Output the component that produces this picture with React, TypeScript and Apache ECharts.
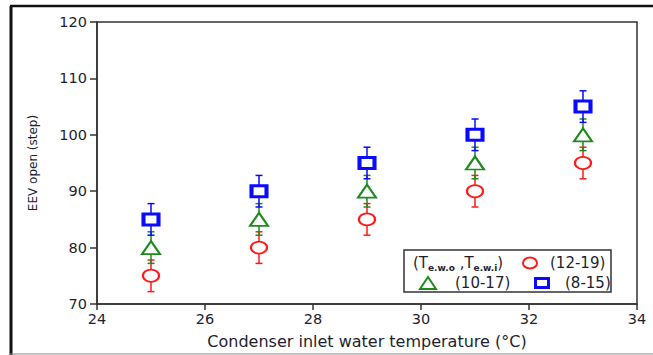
import React, { useEffect, useRef } from "react";
import * as echarts from "echarts";

const xValues = [25, 27, 29, 31, 33];
const circleValues = [75, 80, 85, 90, 95];
const triangleValues = [80, 85, 90, 95, 100];
const squareValues = [85, 90, 95, 100, 105];
const circleErrors = [2.8, 2.8, 2.8, 2.8, 2.8];
const triangleErrors = [2.8, 2.8, 2.8, 2.8, 2.8];
const squareErrors = [2.8, 2.8, 2.8, 2.8, 2.8];
const seriesNames = ["(12-19)", "(10-17)", "(8-15)"];
const xTitle = "Condenser inlet water temperature (°C)";
const yTitle = "EEV open (step)";

const RED = "#ff1a1a";
const GREEN = "#1e8a1e";
const BLUE = "#0a0aff";
const AXIS = "#333333";
const TEXT = "#1e1e30";
const FONT = "DejaVu Sans";

function errorBars(name: string, values: number[], errs: number[], color: string) {
  return {
    type: "custom",
    name: name + " err",
    silent: true,
    z: 1,
    data: xValues.map((x, i) => [x, values[i] - errs[i], values[i] + errs[i]]),
    encode: { x: 0, y: [1, 2] },
    renderItem: (params: any, api: any) => {
      const lo = api.coord([api.value(0), api.value(1)]);
      const hi = api.coord([api.value(0), api.value(2)]);
      const hw = 3.5;
      const st = { stroke: color, lineWidth: 1.5 };
      return {
        type: "group",
        children: [
          { type: "line", shape: { x1: lo[0], y1: lo[1], x2: hi[0], y2: hi[1] }, style: st },
          { type: "line", shape: { x1: lo[0] - hw, y1: lo[1], x2: lo[0] + hw, y2: lo[1] }, style: st },
          { type: "line", shape: { x1: hi[0] - hw, y1: hi[1], x2: hi[0] + hw, y2: hi[1] }, style: st },
        ],
      };
    },
  };
}

function scatter(name: string, values: number[], symbol: string, size: number[], color: string, bw: number) {
  return {
    type: "scatter",
    name,
    z: 3,
    symbol,
    symbolSize: size,
    data: xValues.map((x, i) => [x, values[i]]),
    itemStyle: { color: "#ffffff", borderColor: color, borderWidth: bw, opacity: 1 },
  };
}

export default function App() {
  const ref = useRef<HTMLDivElement>(null);
  useEffect(() => {
    if (!ref.current) return;
    const chart = echarts.init(ref.current, undefined, { renderer: "svg" });
    const legendText = { fontFamily: FONT, fontSize: 15, fill: TEXT };
    chart.setOption({
      animation: false,
      backgroundColor: "#ffffff",
      grid: { left: 97, right: 16, top: 22, bottom: 51, show: true, borderColor: AXIS, borderWidth: 1.5, backgroundColor: "transparent" },
      xAxis: {
        type: "value",
        min: 24,
        max: 34,
        interval: 2,
        name: xTitle,
        nameLocation: "middle",
        nameGap: 29,
        nameTextStyle: { fontFamily: FONT, fontSize: 16, color: TEXT },
        axisLine: { show: true, lineStyle: { color: AXIS, width: 1.5 } },
        axisTick: { show: true, inside: false, length: 6, lineStyle: { color: AXIS, width: 1.5 } },
        axisLabel: { fontFamily: FONT, fontSize: 14.5, color: TEXT, margin: 7 },
        splitLine: { show: false },
      },
      yAxis: {
        type: "value",
        min: 70,
        max: 120,
        interval: 10,
        name: yTitle,
        nameLocation: "middle",
        nameGap: 58,
        nameRotate: 90,
        nameTextStyle: { fontFamily: FONT, fontSize: 12, color: TEXT },
        axisLine: { show: true, lineStyle: { color: AXIS, width: 1.5 } },
        axisTick: { show: true, inside: false, length: 7, lineStyle: { color: AXIS, width: 1.5 } },
        axisLabel: { fontFamily: FONT, fontSize: 14.5, color: TEXT, margin: 10 },
        splitLine: { show: false },
      },
      series: [
        errorBars(seriesNames[0], circleValues, circleErrors, RED),
        errorBars(seriesNames[1], triangleValues, triangleErrors, GREEN),
        errorBars(seriesNames[2], squareValues, squareErrors, BLUE),
        scatter(seriesNames[0], circleValues, "circle", [16, 12], RED, 2),
        scatter(seriesNames[1], triangleValues, "triangle", [18, 13], GREEN, 2),
        scatter(seriesNames[2], squareValues, "rect", [15, 11], BLUE, 3.5),
      ],
      graphic: [
        { type: "line", shape: { x1: 10, y1: 6, x2: 653, y2: 6 }, style: { stroke: "#111", lineWidth: 2.5 }, z: 10 },
        { type: "line", shape: { x1: 11, y1: 6, x2: 11, y2: 355 }, style: { stroke: "#111", lineWidth: 3 }, z: 10 },
        { type: "line", shape: { x1: 10, y1: 354, x2: 653, y2: 354 }, style: { stroke: "#888", lineWidth: 1 }, z: 10 },
        {
          type: "group",
          z: 20,
          children: [
            { type: "rect", shape: { x: 404, y: 250, width: 207, height: 42 }, style: { fill: "#ffffff", stroke: AXIS, lineWidth: 1.5 } },
            {
              type: "text",
              x: 413,
              y: 263,
              style: {
                text: "(T{sub|e.w.o} ,T{sub|e.w.i})",
                ...legendText,
                verticalAlign: "middle",
                rich: { sub: { fontFamily: FONT, fontSize: 9, fontWeight: "bold", fill: TEXT, padding: [9, 0, 0, 0] } },
              },
            },
            { type: "ellipse", shape: { cx: 530, cy: 263, rx: 7, ry: 5.5 }, style: { fill: "#fff", stroke: RED, lineWidth: 2 } },
            { type: "text", x: 550, y: 263, style: { text: seriesNames[0], ...legendText, verticalAlign: "middle" } },
            { type: "polygon", shape: { points: [[428, 277], [420, 289], [436, 289]] }, style: { fill: "#fff", stroke: GREEN, lineWidth: 2 } },
            { type: "text", x: 455, y: 283, style: { text: seriesNames[1], ...legendText, verticalAlign: "middle" } },
            { type: "rect", shape: { x: 535.5, y: 278.5, width: 13, height: 9 }, style: { fill: "#fff", stroke: BLUE, lineWidth: 3 } },
            { type: "text", x: 565, y: 283, style: { text: seriesNames[2], ...legendText, verticalAlign: "middle" } },
          ],
        },
      ],
    });
    return () => chart.dispose();
  }, []);
  return <div ref={ref} style={{ position: "fixed", left: 0, top: 0, width: 653, height: 355, background: "#fff" }} />;
}
